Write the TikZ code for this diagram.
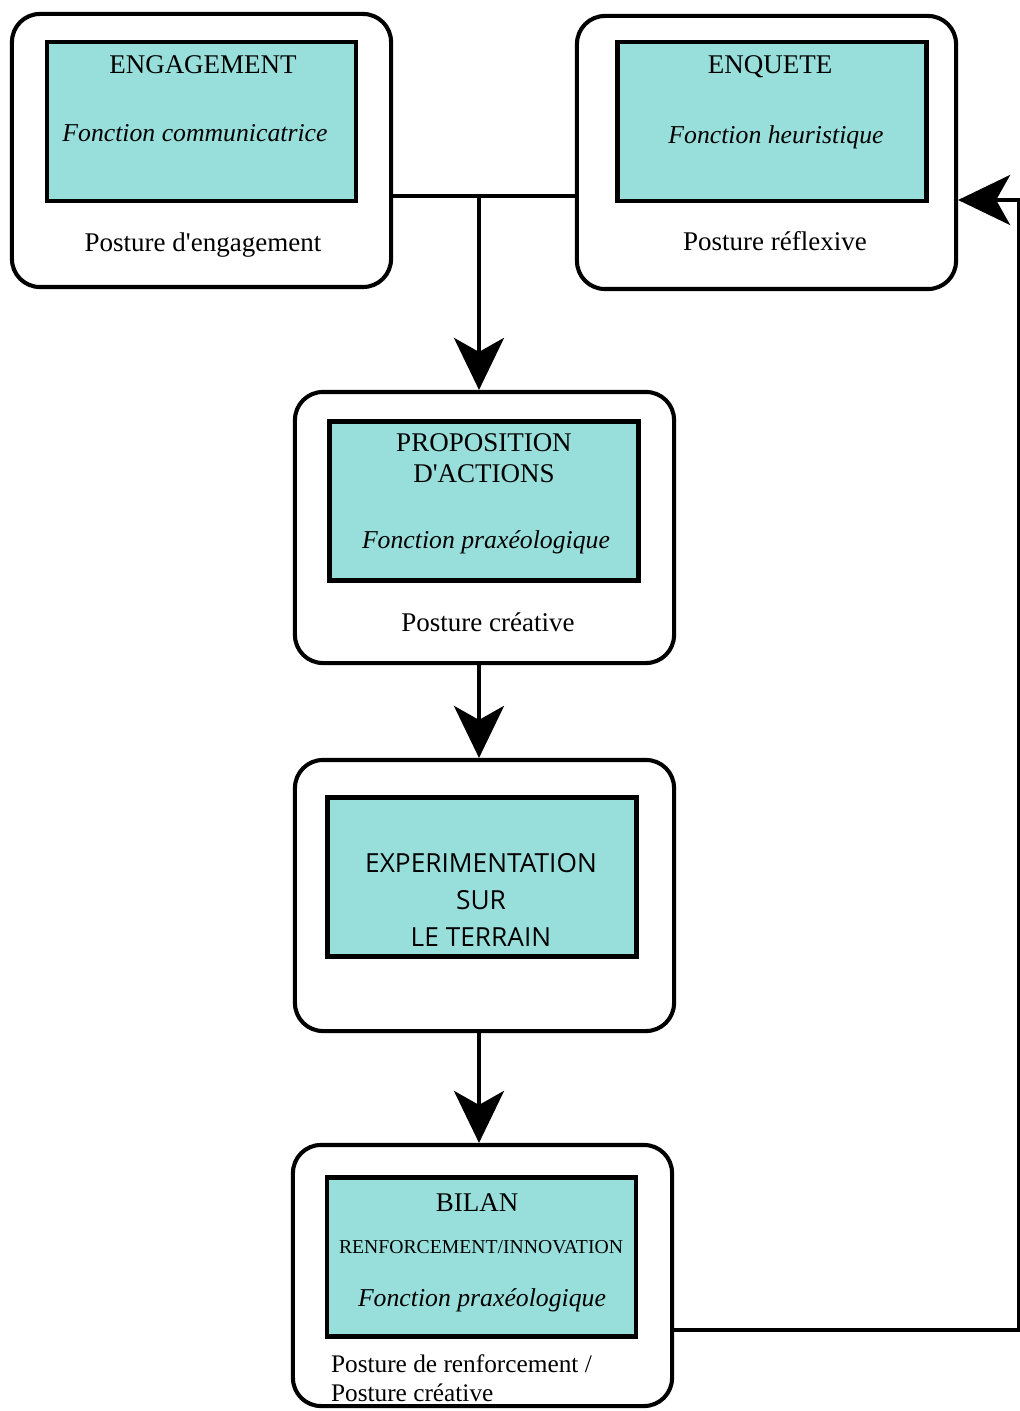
\documentclass[tikz,border=0pt]{standalone}
\usepackage{fontspec}
\setmainfont{Liberation Serif}
\newfontfamily\sansfam{Open Sans}
\usepackage{tikz}
\usetikzlibrary{positioning, arrows.meta, calc}
\definecolor{paleteal}{RGB}{152,223,220}
\tikzstyle{frame}=[%
      rectangle, rounded corners=0.7cm, draw=black, line width=2.9pt, fill=white,
      minimum width=9.475cm, minimum height=6.825cm, inner sep=0pt
]
\tikzstyle{card}=[%
      rectangle, draw=black, line width=3.2pt, fill=paleteal,
      minimum width=7.725cm, minimum height=3.975cm, inner sep=0pt
]
\tikzstyle{txt}=[%
      anchor=base, inner sep=0pt, font=\fontsize{19.2}{23}\selectfont
]
\tikzstyle{fn}=[txt, font=\fontsize{18.3}{22}\selectfont\itshape]
\tikzstyle{sanstxt}=[txt, font=\fontsize{18.7}{22}\selectfont\sansfam]

\begin{document}
\begin{tikzpicture}[x=0.025cm, y=-0.025cm,
    line width=2.9pt,
    -{Stealth[length=13mm, width=12.5mm, inset=3.5mm]}
  ]
    \useasboundingbox[-] (0,0) rectangle (1019,1411);

    \node[frame]                          (engage)  at (201.5,150.5)  {};
    \node[frame]                          (enquete) at (766.5,152.5)  {};
    \node[frame, minimum height=6.775cm]  (propose) at (484.5,527.5)  {};
    \node[frame, minimum height=6.775cm]  (experim) at (484.5,895.5)  {};
    \node[frame, minimum height=6.525cm]  (bilan)   at (482.5,1275.5) {};

    \node[card] (engagecard)  at (201.5,121.5) {};
    \node[card] (enquetecard) at (772,121.5)   {};
    \node[card] (proposecard) at (484,501)     {};
    \node[card] (experimcard) at (482,877)     {};
    \node[card] (bilancard)   at (481.5,1257)  {};

    \node[txt] (engagetitle)  at (203,74)  {ENGAGEMENT};
    \node[fn]  (engagefn)     at (195,142) {Fonction communicatrice};
    \node[txt] (engagepost)   at (203,252) {Posture d\textquotesingle engagement};

    \node[txt] (enquetetitle) at (770,74)  {ENQUETE};
    \node[fn]  (enquetefn)    at (776,144) {Fonction heuristique};
    \node[txt] (enquetepost)  at (775,251) {Posture réflexive};

    \node[txt] (proptitle)    at (484,451) {PROPOSITION};
    \node[txt] (proptitleb)   at (484,482) {D\textquotesingle ACTIONS};
    \node[fn]  (propfn)       at (486,548) {Fonction praxéologique};
    \node[txt] (proppost)     at (488,631) {Posture créative};

    \node[sanstxt] (exptitle)  at (481,872) {EXPERIMENTATION};
    \node[sanstxt] (exptitleb) at (481,909) {SUR};
    \node[sanstxt] (exptitlec) at (481,946) {LE TERRAIN};

    \node[txt] (bilantitle)   at (477,1211) {BILAN};
    \node[txt, font=\fontsize{14}{16}\selectfont] (bilansub) at (481,1253) {RENFORCEMENT/INNOVATION};
    \node[fn]  (bilanfn)      at (482,1306) {Fonction praxéologique};
    \node[txt, anchor=base west, font=\fontsize{18}{21}\selectfont] (bilanpost)  at (329,1372) {Posture de renforcement /};
    \node[txt, anchor=base west, font=\fontsize{18}{21}\selectfont] (bilanpostb) at (329,1401) {Posture créative};

    \coordinate (split)    at (479,196);
    \coordinate (loopdown) at (1019,1330);
    \coordinate (loopup)   at (1019,200);

    \draw[-] (engage.east |- split) -- (enquete.west |- split);
    \draw (split) -- (split |- propose.north);
    \draw (propose.south -| split) -- (experim.north -| split);
    \draw (experim.south -| split) -- (bilan.north -| split);
    \draw (bilan.east |- loopdown) -- (loopdown) -- (loopup) -- (enquete.east |- loopup);

  \end{tikzpicture}
\end{document}
